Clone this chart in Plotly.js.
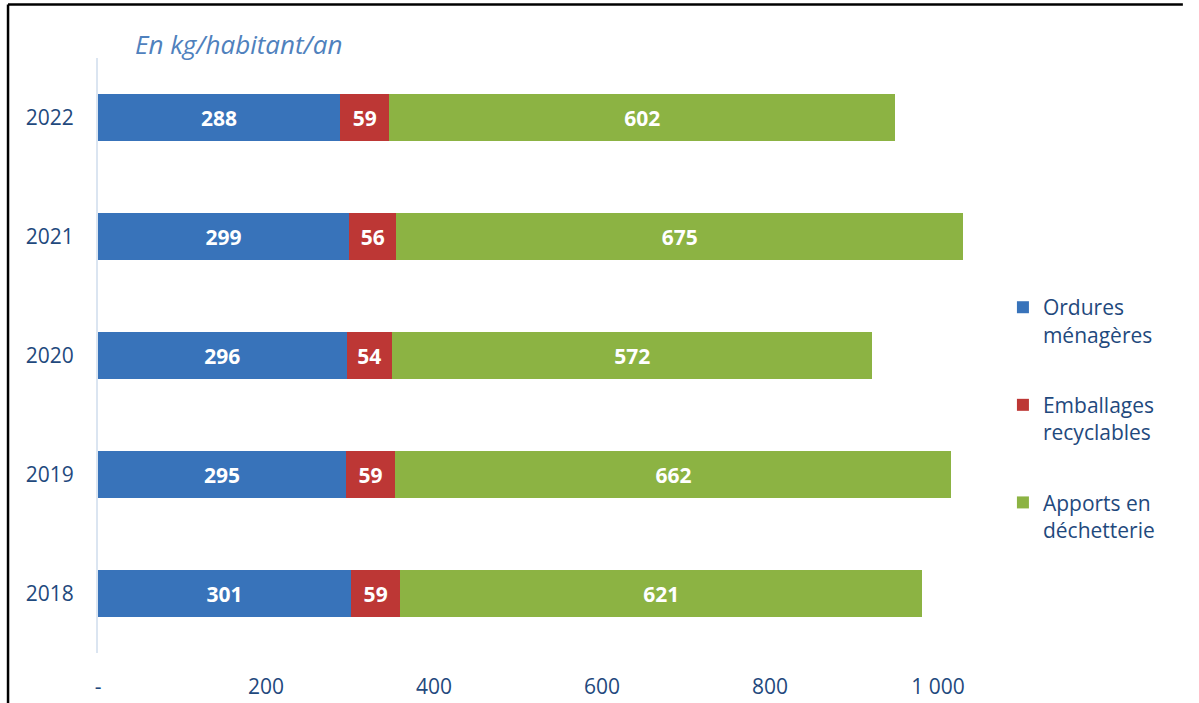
<!DOCTYPE html>
<html>
<head>
<meta charset="utf-8">
<script src="https://cdn.plot.ly/plotly-3.0.1.min.js"></script>
<style>html,body{margin:0;padding:0;background:#fff;}#chart{width:1199px;height:703px;}</style>
</head>
<body>
<div id="chart"></div>
<script>
var years = ['2018', '2019', '2020', '2021', '2022'];
var ordures = [301, 295, 296, 299, 288];
var emballages = [59, 59, 54, 56, 59];
var decheterie = [621, 662, 572, 675, 602];
var seriesNames = ['Ordures<br>ménagères', 'Emballages<br>recyclables', 'Apports en<br>déchetterie'];
var xTickVals = [0, 200, 400, 600, 800, 1000];
var xTickText = ['-', '200', '400', '600', '800', '1 000'];
var unitLabel = 'En kg/habitant/an';

var colors = ['#3873ba', '#bd3735', '#8cb343'];
var dataSets = [ordures, emballages, decheterie];
var font = 'Open Sans, Noto Sans, sans-serif';
var textDark = '#1f497d';

var traces = dataSets.map(function (vals, i) {
  return {
    type: 'bar',
    orientation: 'h',
    y: years,
    x: vals,
    name: seriesNames[i],
    legendgroup: 'g' + i,
    marker: {color: colors[i], line: {width: 0}},
    width: 0.4,
    text: vals.map(String),
    textposition: 'inside',
    insidetextanchor: 'middle',
    constraintext: 'none',
    textfont: {family: font, size: 21, color: '#ffffff', weight: 'bold'},
    hoverinfo: 'x+name'
  };
});

var layout = {
  width: 1199,
  height: 703,
  margin: {l: 98, r: 219, t: 58, b: 50},
  paper_bgcolor: '#ffffff',
  plot_bgcolor: '#ffffff',
  barmode: 'stack',
  showlegend: true,
  font: {family: font, color: textDark},
  xaxis: {
    range: [0, 1050],
    tickvals: xTickVals,
    ticktext: xTickText,
    showgrid: false,
    zeroline: false,
    showline: false,
    ticks: '',
    ticklabelstandoff: 19,
    tickfont: {family: font, size: 21, color: textDark}
  },
  yaxis: {
    type: 'category',
    showgrid: false,
    zeroline: false,
    showline: true,
    linecolor: '#dbe5f1',
    linewidth: 2,
    ticks: '',
    ticklabelstandoff: 18,
    tickfont: {family: font, size: 21, color: textDark}
  },
  legend: {
    x: 1.026,
    xanchor: 'left',
    y: 0.615,
    yanchor: 'top',
    traceorder: 'grouped',
    tracegroupgap: 40,
    valign: 'top',
    font: {family: font, size: 21, color: textDark},
    bgcolor: 'rgba(0,0,0,0)'
  },
  annotations: [{
    xref: 'paper', yref: 'paper',
    x: 0.04, y: 1.023,
    xanchor: 'left', yanchor: 'middle',
    text: '<i>' + unitLabel + '</i>',
    showarrow: false,
    font: {family: font, size: 26, color: '#4f81bd'}
  }],
  shapes: [
    {type: 'line', xref: 'paper', yref: 'paper', x0: -0.102, x1: 1.23, y0: 1.09, y1: 1.09, line: {color: '#000', width: 2.5}},
    {type: 'line', xref: 'paper', yref: 'paper', x0: -0.102, x1: -0.102, y0: 1.09, y1: -0.2, line: {color: '#000', width: 2.5}}
  ]
};

Plotly.newPlot('chart', traces, layout, {displayModeBar: false, staticPlot: true});
</script>
</body>
</html>
